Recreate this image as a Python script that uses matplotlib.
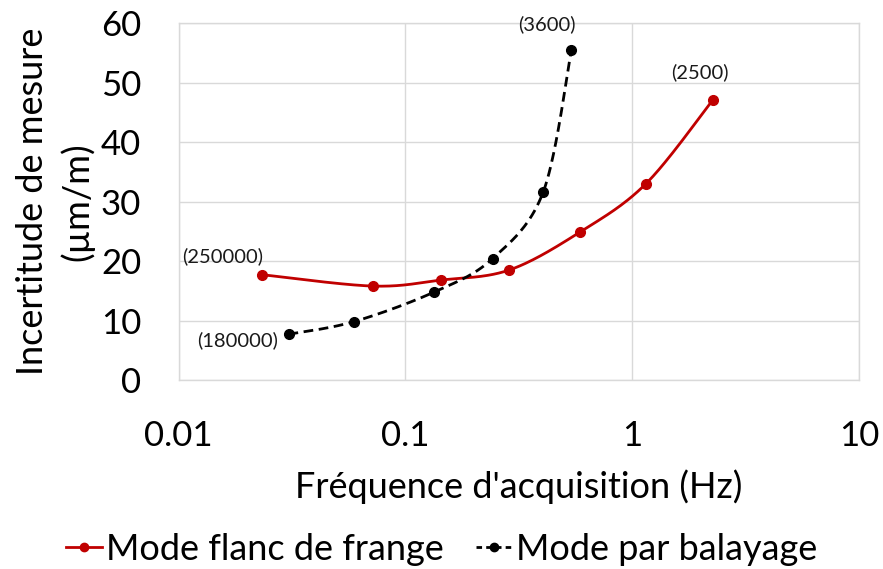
import numpy as np
import matplotlib.pyplot as plt
from matplotlib.lines import Line2D

plt.rcParams['font.family'] = ['Lato', 'DejaVu Sans']

# Mode flanc de frange
freq_flanc = [0.0234, 0.0716, 0.143, 0.287, 0.59, 1.15, 2.27]
inc_flanc = [17.7, 15.8, 16.8, 18.5, 24.9, 33.0, 47.1]
# Mode par balayage
freq_bal = [0.0305, 0.059, 0.134, 0.242, 0.405, 0.539]
inc_bal = [7.7, 9.8, 14.8, 20.4, 31.6, 55.4]

# labels: (series, index, text, offset in pixels)
point_labels = [
    ('flanc', 0, '(250000)', (-40, 19)),
    ('flanc', 6, '(2500)', (-13, 28)),
    ('bal', 0, '(180000)', (-51, -6)),
    ('bal', 5, '(3600)', (-24, 26)),
]

RED = '#c00000'


def smooth(xs, ys, n=40):
    # bezier smoothing on log-x, done in a roughly isotropic frame
    u = np.log10(xs) * 227.0
    v = np.asarray(ys) * 5.94
    p = np.column_stack([u, v])
    pts = np.vstack([p[0], p, p[-1]])
    out = []
    for i in range(1, len(pts) - 2):
        p0, p1, p2, p3 = pts[i - 1], pts[i], pts[i + 1], pts[i + 2]
        c1 = p1 + (p2 - p0) / 6.0
        c2 = p2 - (p3 - p1) / 6.0
        t = np.linspace(0, 1, n)[:, None]
        seg = ((1 - t) ** 3) * p1 + 3 * ((1 - t) ** 2) * t * c1 + 3 * (1 - t) * t ** 2 * c2 + t ** 3 * p2
        out.append(seg if i == 1 else seg[1:])
    c = np.vstack(out)
    return 10 ** (c[:, 0] / 227.0), c[:, 1] / 5.94


fig = plt.figure(figsize=(8.83, 5.69), dpi=100)
ax = fig.add_axes([0.2024, 0.332, 0.7704, 0.6276])

sx, sy = smooth(freq_flanc, inc_flanc)
ax.plot(sx, sy, color=RED, lw=2.0, zorder=3)
ax.plot(freq_flanc, inc_flanc, 'o', color=RED, ms=7, zorder=4)

bx, by = smooth(freq_bal, inc_bal)
ax.plot(bx, by, color='black', lw=2.0, ls=(0, (3.5, 2)), zorder=3)
ax.plot(freq_bal, inc_bal, 'o', color='black', ms=7, zorder=4)

for series, i, txt, off in point_labels:
    xs, ys = (freq_flanc, inc_flanc) if series == 'flanc' else (freq_bal, inc_bal)
    ax.annotate(txt, (xs[i], ys[i]), xytext=off, textcoords='offset pixels',
                ha='center', va='center', fontsize=14.5, color='#1a1a1a')

ax.set_xscale('log')
ax.set_xlim(0.01, 10)
ax.set_ylim(0, 60)
ax.set_yticks(range(0, 61, 10))
ax.set_xticks([0.01, 0.1, 1, 10])
ax.set_xticklabels(['0.01', '0.1', '1', '10'])
ax.xaxis.set_minor_locator(plt.NullLocator())
ax.grid(True, color='#d9d9d9', lw=1.0)
ax.set_axisbelow(True)
for s in ax.spines.values():
    s.set_color('#d9d9d9')
    s.set_linewidth(1.0)
ax.tick_params(length=0, labelsize=25, colors='black')
ax.tick_params(axis='x', pad=29)
ax.tick_params(axis='y', pad=27)

ax.set_xlabel("Fréquence d'acquisition (Hz)", fontsize=26, labelpad=12)
ax.set_ylabel('Incertitude de mesure\n(µm/m)', fontsize=26, labelpad=5, linespacing=1.35)

handles = [
    Line2D([], [], color=RED, lw=2, marker='o', ms=6),
    Line2D([], [], color='black', lw=2, ls=(0, (2, 1.5)), marker='o', ms=6),
]
fig.legend(handles, ['Mode flanc de frange', 'Mode par balayage'], loc='lower center',
           bbox_to_anchor=(0.5, -0.052), ncol=2, frameon=False, fontsize=26,
           handlelength=1.0, handletextpad=0.1, columnspacing=0.9)

fig.savefig('out.png', dpi=100)
